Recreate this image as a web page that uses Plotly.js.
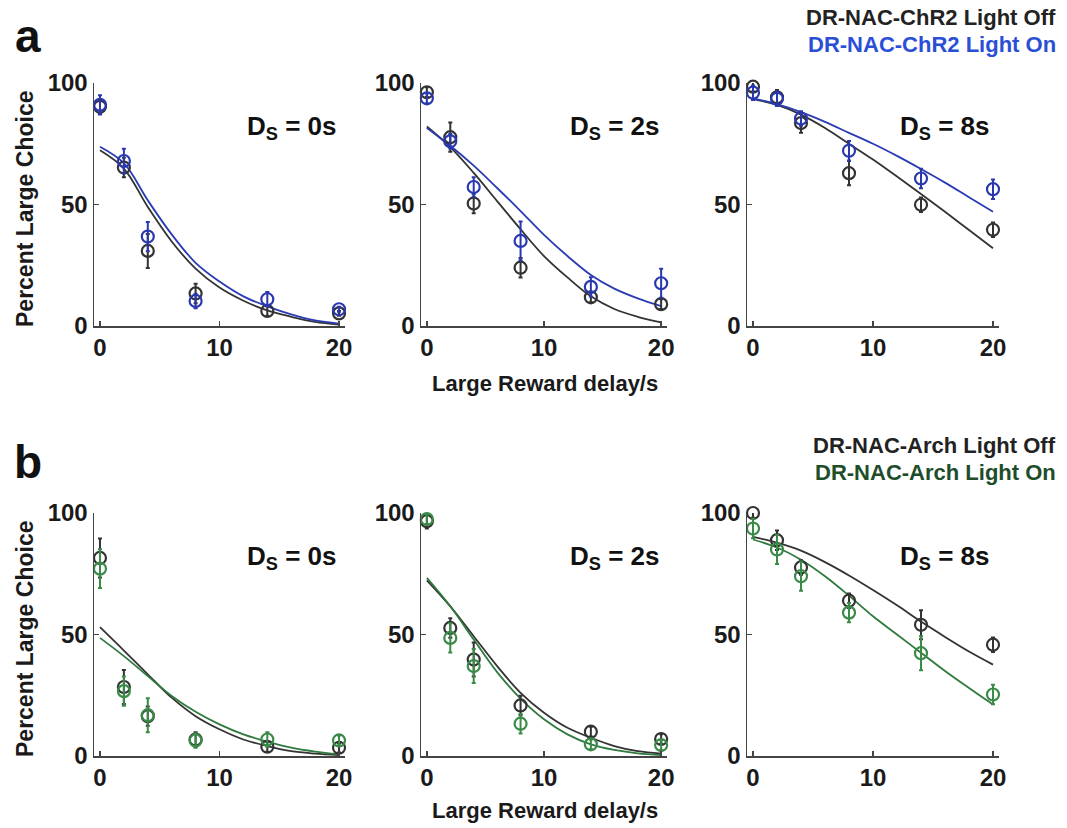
<!DOCTYPE html>
<html>
<head>
<meta charset="utf-8">
<script src="https://cdn.plot.ly/plotly-3.0.1.min.js"></script>
<style>html,body{margin:0;padding:0;background:#fff;}#chart{width:1067px;height:828px;}</style>
</head>
<body>
<div id="chart"></div>
<script>
// ---- data ----
const delays = [0, 2, 4, 8, 14, 20];
const fitX = [0, 2, 4, 6, 8, 10, 12, 14, 16, 18, 20];
const xTicks = [0, 10, 20];
const yTicks = [0, 50, 100];
const panelLabels = ["D<sub>S</sub> = 0s", "D<sub>S</sub> = 2s", "D<sub>S</sub> = 8s"];
const legendA = ["DR-NAC-ChR2 Light Off", "DR-NAC-ChR2 Light On"];
const legendB = ["DR-NAC-Arch Light Off", "DR-NAC-Arch Light On"];

// Row a: ChR2
const a1Off = [90.2, 65.2, 30.9, 13.4, 6.2, 5.2];  const a1OffErr = [3, 4, 7, 4, 2, 1];
const a1On  = [91.0, 67.9, 36.8, 10.3, 11.0, 6.9]; const a1OnErr  = [4, 5, 6, 3, 3, 1];
const a1OffFit = [72.3, 64.8, 49.0, 34.8, 23.6, 15.8, 10.4, 6.4, 3.8, 1.7, 0.6];
const a1OnFit  = [73.8, 67.0, 51.7, 37.7, 26.0, 18.3, 12.2, 8.1, 4.8, 2.3, 1.0];

const a2Off = [96.2, 77.7, 50.4, 24.0, 11.8, 9.0]; const a2OffErr = [2, 6, 4, 4, 2, 2];
const a2On  = [93.7, 76.0, 57.2, 35.0, 16.1, 17.6]; const a2OnErr = [2, 3, 4, 8, 4, 6];
const a2OffFit = [82.1, 73.6, 63.0, 51.4, 39.8, 28.8, 20.0, 12.2, 7.0, 3.8, 1.5];
const a2OnFit  = [81.5, 74.2, 66.0, 56.8, 47.3, 37.5, 28.8, 21.0, 15.4, 11.4, 8.2];

const a3Off = [98.5, 94.1, 83.5, 62.9, 49.9, 39.6]; const a3OffErr = [2, 3, 4, 5, 3, 3];
const a3On  = [96.0, 93.5, 85.4, 72.1, 60.7, 56.3]; const a3OnErr = [3, 3, 3, 4, 4, 4];
const a3OffFit = [93.4, 91.0, 87.0, 81.5, 75.0, 68.5, 61.5, 54.3, 47.0, 39.5, 32.0];
const a3OnFit  = [93.7, 91.3, 88.0, 84.0, 79.5, 75.0, 70.0, 64.6, 59.0, 53.0, 47.0];

// Row b: Arch
const b1Off = [81.5, 28.4, 16.4, 6.8, 3.8, 3.4]; const b1OffErr = [8, 7, 4, 3, 2, 2];
const b1On  = [77.1, 26.7, 16.8, 6.4, 6.8, 6.4]; const b1OnErr  = [8, 6, 7, 3, 3, 2];
const b1OffFit = [53.0, 43.4, 33.6, 24.0, 16.4, 11.0, 6.8, 4.1, 2.0, 1.0, 0.4];
const b1OnFit  = [48.6, 41.1, 32.9, 24.7, 18.2, 13.0, 8.9, 5.9, 3.4, 1.8, 0.7];

const b2Off = [96.6, 52.7, 39.7, 20.8, 10.0, 7.0]; const b2OffErr = [3, 4, 7, 4, 2, 2];
const b2On  = [97.5, 48.6, 37.0, 13.3, 4.8, 4.5];  const b2OnErr  = [2, 6, 7, 4, 2, 2];
const b2OffFit = [72.3, 61.6, 49.3, 37.0, 26.0, 17.8, 11.6, 7.5, 4.1, 2.0, 1.0];
const b2OnFit  = [73.3, 61.6, 47.9, 34.5, 23.6, 15.1, 8.9, 4.8, 2.5, 1.1, 0.4];

const b3Off = [100, 88.8, 77.6, 63.9, 54.0, 45.8]; const b3OffErr = [2, 4, 3, 3, 6, 3];
const b3On  = [93.6, 85.0, 74.0, 59.0, 42.3, 25.3]; const b3OnErr = [4, 6, 6, 4, 7, 4];
const b3OffFit = [90.2, 87.8, 84.5, 79.8, 74.3, 68.3, 62.0, 55.3, 49.0, 43.0, 37.6];
const b3OnFit  = [89.1, 85.8, 80.8, 74.0, 66.0, 57.5, 50.0, 42.5, 35.0, 28.0, 21.2];

// ---- styling ----
const W = 1067, H = 828;
const FONT = "Liberation Sans, Arial, Helvetica, sans-serif";
const cOff = "#333333", cBlue = "#2a38b0", cGreen = "#3a8a48";
const cBlueCurve = "#2a3cb4", cGreenCurve = "#2f7a3e";
const cBlueText = "#2a4fd6", cGreenText = "#1e4d2a";

const colPx = [[94, 345], [421, 667], [747, 999]];
const rowPx = [[83, 326], [513, 756]];
const px2x = p => p / W;
const px2y = p => 1 - p / H;

const panels = [
  [a1Off, a1OffErr, a1On, a1OnErr, a1OffFit, a1OnFit],
  [a2Off, a2OffErr, a2On, a2OnErr, a2OffFit, a2OnFit],
  [a3Off, a3OffErr, a3On, a3OnErr, a3OffFit, a3OnFit],
  [b1Off, b1OffErr, b1On, b1OnErr, b1OffFit, b1OnFit],
  [b2Off, b2OffErr, b2On, b2OnErr, b2OffFit, b2OnFit],
  [b3Off, b3OffErr, b3On, b3OnErr, b3OffFit, b3OnFit]
];

const traces = [];
const layout = {
  width: W, height: H,
  margin: {l: 0, r: 0, t: 0, b: 0},
  paper_bgcolor: "#fff", plot_bgcolor: "#fff",
  showlegend: false,
  font: {family: FONT, color: "#222"},
  annotations: []
};

panels.forEach((p, i) => {
  const r = Math.floor(i / 3), c = i % 3;
  const n = i + 1;
  const xa = "x" + (n === 1 ? "" : n), ya = "y" + (n === 1 ? "" : n);
  const onMarker = r === 0 ? cBlue : cGreen;
  const onCurve = r === 0 ? cBlueCurve : cGreenCurve;
  const [off, offErr, on, onErr, offFit, onFit] = p;

  traces.push({x: fitX, y: offFit, xaxis: xa, yaxis: ya, type: "scatter", mode: "lines",
    line: {color: cOff, width: 1.8, shape: "spline", smoothing: 1}, hoverinfo: "skip"});
  traces.push({x: fitX, y: onFit, xaxis: xa, yaxis: ya, type: "scatter", mode: "lines",
    line: {color: onCurve, width: 1.8, shape: "spline", smoothing: 1}, hoverinfo: "skip"});
  traces.push({x: delays, y: off, xaxis: xa, yaxis: ya, type: "scatter", mode: "markers",
    cliponaxis: false,
    marker: {symbol: "circle-open", size: 12, color: cOff, line: {width: 2.2, color: cOff}},
    error_y: {type: "data", array: offErr, visible: true, color: cOff, thickness: 2, width: 2}});
  traces.push({x: delays, y: on, xaxis: xa, yaxis: ya, type: "scatter", mode: "markers",
    cliponaxis: false,
    marker: {symbol: "circle-open", size: 12, color: onMarker, line: {width: 2.2, color: onMarker}},
    error_y: {type: "data", array: onErr, visible: true, color: onMarker, thickness: 2, width: 2}});

  const axCommon = {
    showline: true, linecolor: "#444", linewidth: 1.5,
    ticks: "inside", ticklen: 5, tickwidth: 1.5, tickcolor: "#444",
    showgrid: false, zeroline: false, fixedrange: true,
    tickfont: {family: FONT, size: 24, weight: "bold", color: "#1a1a1a"}
  };
  layout["xaxis" + (n === 1 ? "" : n)] = Object.assign({}, axCommon, {
    domain: [px2x(colPx[c][0]), px2x(colPx[c][1])],
    range: [-0.5, 20.5], tickvals: xTicks, ticktext: xTicks.map(String),
    anchor: ya
  });
  layout["yaxis" + (n === 1 ? "" : n)] = Object.assign({}, axCommon, {
    domain: [px2y(rowPx[r][1]), px2y(rowPx[r][0])],
    range: [0, 100], tickvals: yTicks, ticktext: yTicks.map(String),
    anchor: xa
  });

  // panel label D_S
  const labelX = [245, 568, 898][c];
  const labelY = [127, 557][r];
  layout.annotations.push({
    xref: "paper", yref: "paper", x: px2x(labelX), y: px2y(labelY),
    xanchor: "left", yanchor: "middle", showarrow: false,
    text: panelLabels[c],
    font: {family: FONT, size: 26, weight: "bold", color: "#111"}
  });
});

// Axis titles, panel letters, legends
const txt = (text, x, y, opts) => Object.assign({
  xref: "paper", yref: "paper", x: px2x(x), y: px2y(y), showarrow: false,
  text: text, font: {family: FONT, size: 22, weight: "bold", color: "#1a1a1a"}
}, opts || {});

const yTitleFont = {family: FONT, size: 23, weight: "bold", color: "#1a1a1a"};
layout.annotations.push(txt("Percent Large Choice", 25, 209, {textangle: -90, xanchor: "center", yanchor: "middle", font: yTitleFont}));
layout.annotations.push(txt("Percent Large Choice", 25, 639, {textangle: -90, xanchor: "center", yanchor: "middle", font: yTitleFont}));
layout.annotations.push(txt("Large Reward delay/s", 545, 383, {xanchor: "center", yanchor: "middle"}));
layout.annotations.push(txt("Large Reward delay/s", 545, 810, {xanchor: "center", yanchor: "middle"}));

layout.annotations.push(txt("a", 28, 36, {xanchor: "center", yanchor: "middle",
  font: {family: FONT, size: 46, weight: "bold", color: "#111"}}));
layout.annotations.push(txt("b", 28, 462, {xanchor: "center", yanchor: "middle",
  font: {family: FONT, size: 46, weight: "bold", color: "#111"}}));

const legFont = col => ({family: FONT, size: 22, weight: "bold", color: col});
layout.annotations.push(txt(legendA[0], 1058, 18, {xanchor: "right", yanchor: "middle", font: legFont("#222")}));
layout.annotations.push(txt(legendA[1], 1058, 44, {xanchor: "right", yanchor: "middle", font: legFont(cBlueText)}));
layout.annotations.push(txt(legendB[0], 1058, 446, {xanchor: "right", yanchor: "middle", font: legFont("#222")}));
layout.annotations.push(txt(legendB[1], 1058, 472, {xanchor: "right", yanchor: "middle", font: legFont(cGreenText)}));

Plotly.newPlot("chart", traces, layout, {displayModeBar: false, staticPlot: true});
</script>
</body>
</html>
